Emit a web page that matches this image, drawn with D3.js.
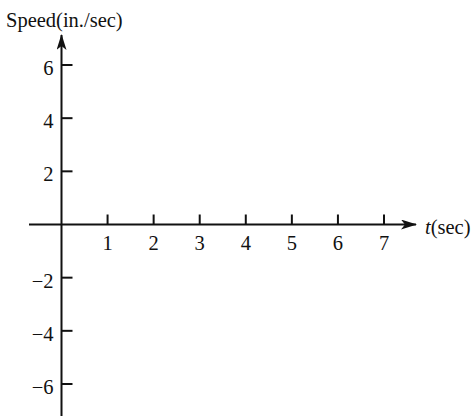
<!DOCTYPE html>
<html>
<head>
<meta charset="utf-8">
<script src="https://cdn.jsdelivr.net/npm/d3@7"></script>
<style>
  html, body { margin: 0; padding: 0; background: #fff; }
  svg text { font-family: "Liberation Serif", "DejaVu Serif", serif; fill: #111; }
</style>
</head>
<body>
<div id="chart"></div>
<script>
// axis ticks
const xTicks = [1, 2, 3, 4, 5, 6, 7];
const yTicks = [6, 4, 2, -2, -4, -6];
const xLabel = 'sec';
const yLabel = 'Speed(in./sec)';

const width = 474, height = 416;
const fontSize = '20.5px';

const x = d3.scaleLinear().domain([0, 7]).range([61.5, 384]);
const y = d3.scaleLinear().domain([-6, 6]).range([384, 65]);

const svg = d3.select('#chart').append('svg')
    .attr('width', width)
    .attr('height', height);

svg.append('defs').append('marker')
    .attr('id', 'arrow')
    .attr('viewBox', '0 0 16 10')
    .attr('refX', 15)
    .attr('refY', 5)
    .attr('markerWidth', 16)
    .attr('markerHeight', 10)
    .attr('markerUnits', 'userSpaceOnUse')
    .attr('orient', 'auto')
    .append('path')
    .attr('d', 'M0,0 L16,5 L0,10 L4,5 Z')
    .attr('fill', '#111');

const g = svg.append('g');

// x axis line
g.append('line')
    .attr('x1', 29).attr('x2', 416)
    .attr('y1', y(0)).attr('y2', y(0))
    .attr('stroke', '#111').attr('stroke-width', 2)
    .attr('marker-end', 'url(#arrow)');

// y axis line
g.append('line')
    .attr('x1', x(0)).attr('x2', x(0))
    .attr('y1', height).attr('y2', 35)
    .attr('stroke', '#111').attr('stroke-width', 2)
    .attr('marker-end', 'url(#arrow)');

// x ticks
g.selectAll('.xtick').data(xTicks).enter().append('line')
    .attr('class', 'xtick')
    .attr('x1', d => x(d)).attr('x2', d => x(d))
    .attr('y1', y(0)).attr('y2', y(0) - 10)
    .attr('stroke', '#111').attr('stroke-width', 2);

g.selectAll('.xlabel').data(xTicks).enter().append('text')
    .attr('class', 'xlabel')
    .attr('x', d => x(d))
    .attr('y', y(0) + 25)
    .attr('text-anchor', 'middle')
    .style('font-size', fontSize)
    .text(d => d);

// y ticks
g.selectAll('.ytick').data(yTicks).enter().append('line')
    .attr('class', 'ytick')
    .attr('x1', x(0)).attr('x2', x(0) + 11)
    .attr('y1', d => y(d)).attr('y2', d => y(d))
    .attr('stroke', '#111').attr('stroke-width', 2);

g.selectAll('.ylabel').data(yTicks).enter().append('text')
    .attr('class', 'ylabel')
    .attr('x', x(0) - 8)
    .attr('y', d => y(d) + 10)
    .attr('text-anchor', 'end')
    .style('font-size', fontSize)
    .text(d => d < 0 ? '\u2212' + Math.abs(d) : d);

// axis titles
svg.append('text')
    .attr('x', 6)
    .attr('y', 27)
    .style('font-size', fontSize)
    .text(yLabel);

const tl = svg.append('text')
    .attr('x', 425)
    .attr('y', 234)
    .style('font-size', fontSize);
tl.append('tspan').style('font-style', 'italic').text('t');
tl.append('tspan').text('(' + xLabel + ')');
</script>
</body>
</html>
